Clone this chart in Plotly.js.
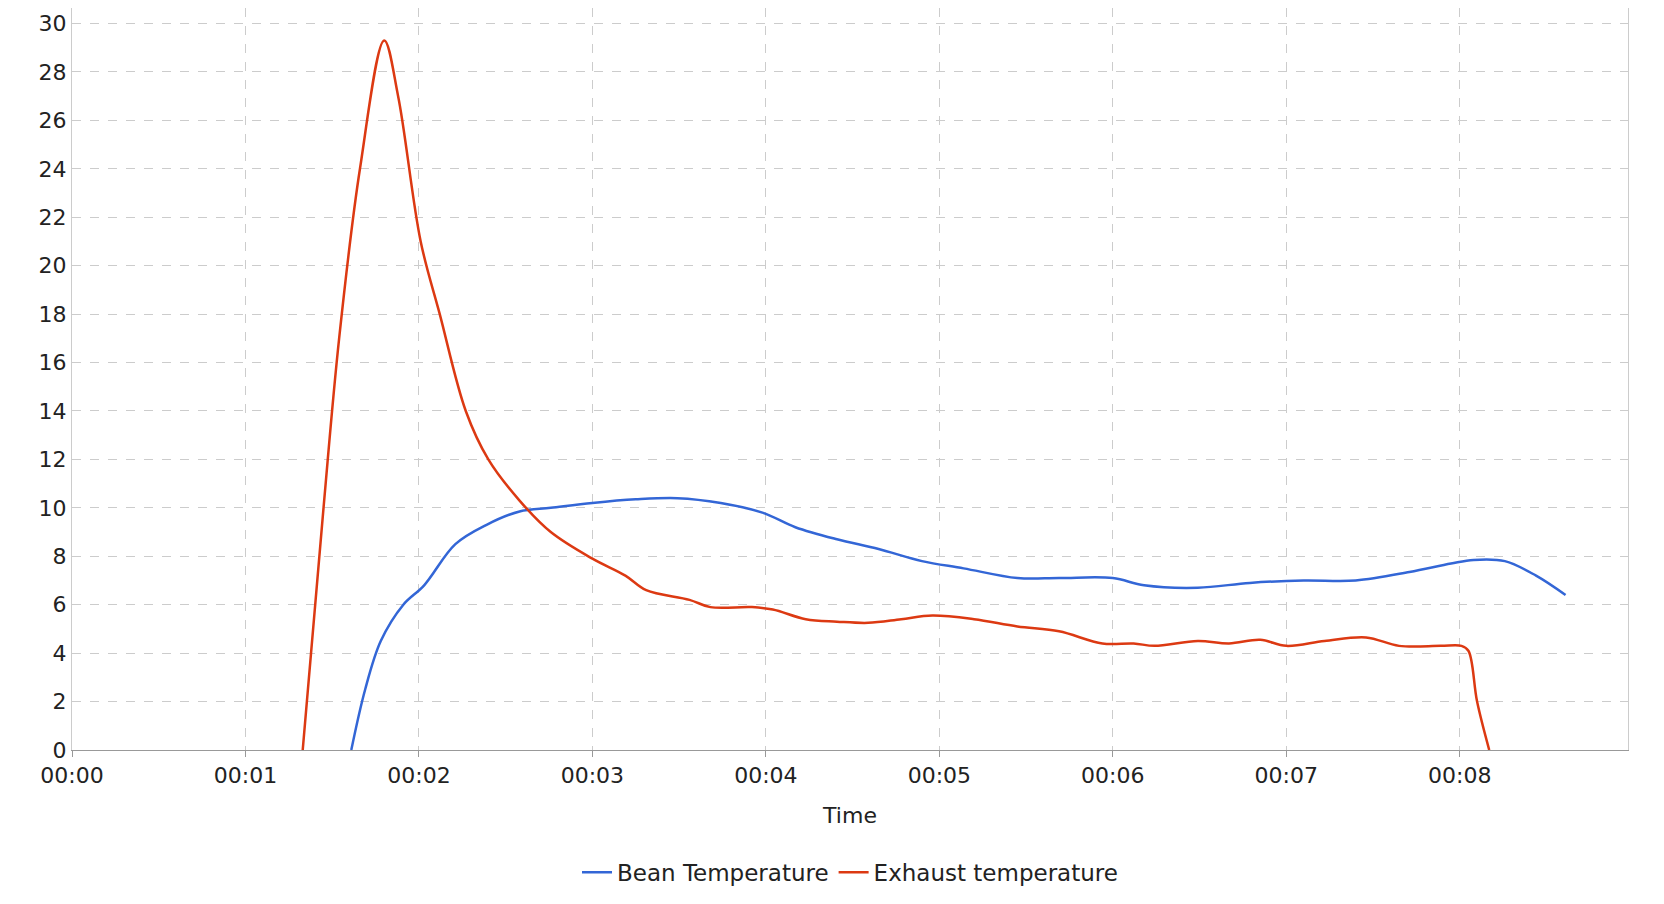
<!DOCTYPE html>
<html><head><meta charset="utf-8">
<script src="https://cdn.plot.ly/plotly-3.0.1.min.js"></script>
<style>html,body{margin:0;padding:0;background:#fff}</style>
</head><body><div id="chart" style="width:1664px;height:904px"></div>
<script>
const beanTime = [1.61,1.69,1.78,1.91,2.03,2.21,2.39,2.58,2.76,3.0,3.25,3.49,3.74,3.98,4.17,4.41,4.65,4.9,5.14,5.45,5.69,6.0,6.18,6.49,6.79,7.1,7.4,7.71,7.95,8.08,8.26,8.44,8.61];
const beanTemp = [0,2.5,4.5,6,6.8,8.5,9.3,9.85,10,10.2,10.35,10.4,10.2,9.8,9.2,8.7,8.3,7.8,7.5,7.1,7.1,7.1,6.8,6.7,6.9,7.0,7.0,7.35,7.7,7.85,7.8,7.2,6.4];
const exhTime = [1.33,1.45,1.54,1.66,1.80,1.88,2.01,2.12,2.27,2.40,2.58,2.76,3.0,3.19,3.31,3.56,3.68,3.92,4.04,4.23,4.41,4.59,4.78,4.96,5.2,5.45,5.69,5.94,6.12,6.24,6.49,6.67,6.85,7.0,7.22,7.46,7.65,7.89,8.01,8.05,8.1,8.17];
const exhTemp = [0,10,17,24,29.3,27,21,18,14,12,10.3,9,7.9,7.2,6.6,6.2,5.9,5.9,5.8,5.4,5.3,5.25,5.4,5.55,5.4,5.1,4.9,4.4,4.4,4.3,4.5,4.4,4.55,4.3,4.5,4.65,4.3,4.3,4.3,4.1,2,0];
const tickVals = [0,1,2,3,4,5,6,7,8];
const tickText = ["00:00","00:01","00:02","00:03","00:04","00:05","00:06","00:07","00:08"];
const grid = {showgrid:true, gridcolor:'#cccccc', griddash:'dash', gridwidth:1};
Plotly.newPlot('chart', [
 {x:beanTime, y:beanTemp, name:'Bean Temperature', mode:'lines', line:{color:'#3366d6', width:2.5, shape:'spline'}},
 {x:exhTime, y:exhTemp, name:'Exhaust temperature', mode:'lines', line:{color:'#dc3912', width:2.5, shape:'spline'}}
], {
 font:{family:'DejaVu Sans', size:22, color:'#222'},
 margin:{l:72, r:36, t:8, b:154},
 paper_bgcolor:'#fff', plot_bgcolor:'#fff',
 xaxis:Object.assign({range:[0,8.97], tickvals:tickVals, ticktext:tickText, tickfont:{size:22}, zeroline:false, showline:true, linecolor:'#999', ticks:'outside', ticklen:6, tickcolor:'#999', title:{text:'Time', standoff:20, font:{size:22}}}, grid),
 yaxis:Object.assign({range:[0,30.64], dtick:2, tickfont:{size:22}, zeroline:false, showline:true, linecolor:'#ccc', mirror:true, ticks:''}, grid),
 showlegend:true,
 legend:{orientation:'h', x:0.5, xanchor:'center', yref:'container', y:0.035, yanchor:'middle', font:{size:23}}
}, {displayModeBar:false});
</script></body></html>
